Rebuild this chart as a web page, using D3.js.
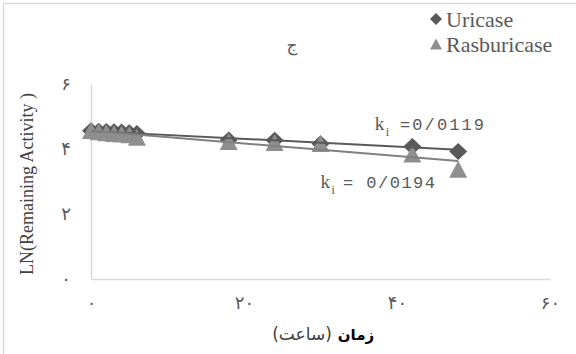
<!DOCTYPE html>
<html>
<head>
<meta charset="utf-8">
<script src="https://cdn.jsdelivr.net/npm/d3@7"></script>
<style>
  html, body { margin: 0; padding: 0; background: #fff; }
  svg { display: block; }
</style>
</head>
<body>
<svg id="chart" width="576" height="354"></svg>
<script>
// ---- data ----
const times = [0, 1, 2, 3, 4, 5, 6, 18, 24, 30, 42, 48];
const uricase = [4.56, 4.55, 4.54, 4.53, 4.52, 4.50, 4.48, 4.28, 4.27, 4.16, 4.08, 3.92];
const rasburicase = [4.57, 4.53, 4.50, 4.48, 4.46, 4.44, 4.36, 4.23, 4.20, 4.17, 3.85, 3.38];
const seriesNames = ["Uricase", "Rasburicase"];
const trendIntercepts = [4.55, 4.56];
const trendSlopes = [-0.0119, -0.0194];
const kiLabels = ["=0/0119", "= 0/0194"];
const xTicks = [0, 20, 40, 60];
const yTicks = [0, 2, 4, 6];
const title = "ج";
const yTitle = "LN(Remaining Activity )";
const xTitleBold = "زمان";
const xTitleRest = "(ساعت)";

const toPersian = n => String(n).replace(/\d/g, d => "۰۱۲۳۴۵۶۷۸۹"[+d]);

const svg = d3.select("#chart");
const x = d3.scaleLinear().domain([0, 60]).range([91, 550]);
const y = d3.scaleLinear().domain([0, 6]).range([279, 84]);

const darkCol = "#595959", lightCol = "#8f8f8f", axisCol = "#d9d9d9", textCol = "#595959";

// chart border (right/bottom cropped)
svg.append("rect").attr("x", 3.5).attr("y", 3.5).attr("width", 700).attr("height", 500)
  .attr("fill", "none").attr("stroke", axisCol).attr("stroke-width", 1.5);

// axes
const xAxis = d3.axisBottom(x).tickValues(xTicks).tickSize(0).tickPadding(17).tickFormat(toPersian);
const gx = svg.append("g").attr("transform", `translate(0,${y(0)})`).call(xAxis);
gx.select(".domain").attr("stroke", axisCol).attr("stroke-width", 1.5);
gx.selectAll("text").attr("fill", textCol).attr("font-family", "DejaVu Sans").attr("font-size", 18);

const yAxis = d3.axisLeft(y).tickValues(yTicks).tickSize(0).tickPadding(20).tickFormat(toPersian);
const gy = svg.append("g").attr("transform", `translate(${x(0)},0)`).call(yAxis);
gy.select(".domain").attr("stroke", axisCol).attr("stroke-width", 1.5);
gy.selectAll("text").attr("fill", textCol).attr("font-family", "DejaVu Sans").attr("font-size", 18);

// marker paths
const diamondPath = (w, h) => `M0,${-h/2}L${w/2},0L0,${h/2}L${-w/2},0Z`;
const trianglePath = (w, h) => `M0,${-h/2}L${w/2},${h/2}L${-w/2},${h/2}Z`;

// Uricase diamonds
svg.append("g").selectAll("path").data(times.map((t, i) => [t, uricase[i]])).join("path")
  .attr("d", diamondPath(18, 17))
  .attr("transform", d => `translate(${x(d[0])},${y(d[1])})`)
  .attr("fill", darkCol);

// Rasburicase triangles
svg.append("g").selectAll("path").data(times.map((t, i) => [t, rasburicase[i]])).join("path")
  .attr("d", trianglePath(18, 17))
  .attr("transform", d => `translate(${x(d[0])},${y(d[1])})`)
  .attr("fill", lightCol);

// trend lines
const tEnd = d3.max(times);
[darkCol, "#808080"].forEach((c, i) => {
  const line = d3.line().x(d => x(d)).y(d => y(trendIntercepts[i] + trendSlopes[i] * d));
  svg.append("path").attr("d", line([0, tEnd])).attr("stroke", c).attr("stroke-width", 2).attr("fill", "none");
});

// ki annotations
const kiPos = [[37.1, 4.58, 400, 84], [30.0, 2.8, 343, 92]];
kiPos.forEach((p, i) => {
  const kx = x(p[0]), ky = y(p[1]);
  svg.append("text").attr("x", kx).attr("y", ky).text("k")
    .attr("font-family", "Liberation Serif").attr("font-size", 19).attr("fill", textCol);
  svg.append("text").attr("x", kx + 11).attr("y", ky + 6).text("i")
    .attr("font-family", "Liberation Serif").attr("font-size", 12).attr("fill", textCol);
  svg.append("text").attr("x", p[2]).attr("y", ky).text(kiLabels[i])
    .attr("font-family", "Liberation Mono").attr("font-size", 17).attr("fill", textCol)
    .attr("textLength", p[3]).attr("lengthAdjust", "spacing");
});

// title
svg.append("text").attr("x", 292).attr("y", 51).attr("text-anchor", "middle").text(title)
  .attr("font-family", "DejaVu Sans").attr("font-size", 17).attr("fill", textCol);

// legend
const leg = svg.append("g");
seriesNames.forEach((name, i) => {
  const ly = 19 + i * 25;
  leg.append("path").attr("d", i === 0 ? diamondPath(12, 12) : trianglePath(12, 11))
    .attr("transform", `translate(436,${ly})`).attr("fill", i === 0 ? darkCol : lightCol);
  leg.append("text").attr("x", 446).attr("y", ly + 8).text(name)
    .attr("font-family", "Liberation Serif").attr("font-size", 22).attr("fill", textCol);
});

// y title
svg.append("text").attr("transform", `translate(33,184) rotate(-90)`).attr("text-anchor", "middle")
  .text(yTitle).attr("font-family", "Liberation Serif").attr("font-size", 18).attr("fill", "#404040");

// x title (visual order right-to-left: bold word on the right, parenthesised word on the left)
svg.append("text").attr("x", 356).attr("y", 340).attr("text-anchor", "middle").text(xTitleBold)
  .attr("font-family", "DejaVu Sans").attr("font-weight", "bold").attr("font-size", 15).attr("fill", "#000");
svg.append("text").attr("x", 302).attr("y", 340).attr("text-anchor", "middle").text(xTitleRest)
  .attr("font-family", "DejaVu Sans").attr("font-size", 17).attr("fill", "#404040");
</script>
</body>
</html>
